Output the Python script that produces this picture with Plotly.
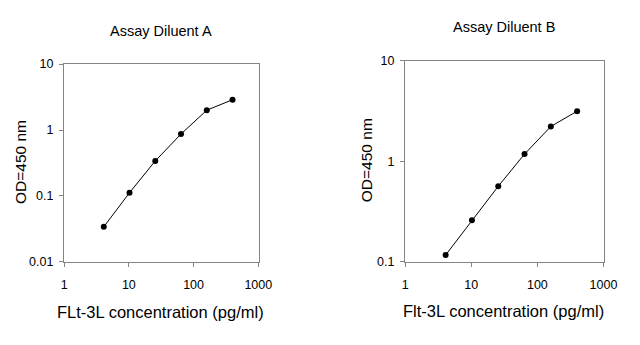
import plotly.graph_objects as go
from plotly.subplots import make_subplots

# Standard curve: 2.5-fold serial dilution of Flt-3L (pg/ml)
conc = [4.096, 10.24, 25.6, 64, 160, 400]
od_diluent_a = [0.034, 0.112, 0.34, 0.87, 2.0, 2.88]
od_diluent_b = [0.117, 0.26, 0.565, 1.18, 2.22, 3.15]

panel_titles = ["Assay Diluent A", "Assay Diluent B"]
x_titles = ["FLt-3L concentration (pg/ml)", "Flt-3L concentration (pg/ml)"]
y_title = "OD=450 nm"
x_ticks = [1, 10, 100, 1000]
y_ticks_a = [0.01, 0.1, 1, 10]
y_ticks_b = [0.1, 1, 10]

FONT = "Liberation Sans, Arial, sans-serif"
AXIS_GREY = "#858585"

fig = make_subplots(rows=1, cols=2)

for col, y in ((1, od_diluent_a), (2, od_diluent_b)):
    fig.add_trace(
        go.Scatter(
            x=conc, y=y, mode="lines+markers",
            line=dict(color="black", width=1),
            marker=dict(color="black", size=6),
            showlegend=False,
        ),
        row=1, col=col,
    )

W, H = 640, 345
dom_a_x = [62.7 / W, 262.5 / W]
dom_b_x = [412.5 / W, 616.5 / W]
dom_a_y = [1 - 265.7 / H, 1 - 59.5 / H]
dom_b_y = [1 - 265.7 / H, 1 - 56 / H]

common_x = dict(
    type="log", range=[0, 3.01], tickvals=x_ticks, ticktext=[str(v) for v in x_ticks],
    showline=True, linecolor=AXIS_GREY, linewidth=1.4, mirror=True,
    ticks="outside", ticklen=4, tickcolor=AXIS_GREY, showgrid=False, zeroline=False,
    ticklabelstandoff=7,
    tickfont=dict(family=FONT, size=12.5, color="black"),
)
common_y = dict(
    type="log", showline=True, linecolor=AXIS_GREY, linewidth=1.4, mirror=True,
    ticks="outside", ticklen=4, tickcolor=AXIS_GREY, showgrid=False, zeroline=False,
    ticklabelstandoff=3,
    tickfont=dict(family=FONT, size=12.5, color="black"),
)

fig.update_layout(
    width=W, height=H,
    margin=dict(l=0, r=0, t=0, b=0),
    paper_bgcolor="white", plot_bgcolor="white",
    font=dict(family=FONT, color="black"),
    xaxis=dict(common_x, domain=dom_a_x),
    xaxis2=dict(common_x, domain=dom_b_x),
    yaxis=dict(common_y, domain=dom_a_y, range=[-2, 1], tickvals=y_ticks_a,
               ticktext=["0.01", "0.1", "1", "10"]),
    yaxis2=dict(common_y, domain=dom_b_y, range=[-1, 1], tickvals=y_ticks_b,
                ticktext=["0.1", "1", "10"]),
)

annotations = [
    dict(text=panel_titles[0], x=162 / W, y=1 - 24.5 / H),
    dict(text=panel_titles[1], x=514 / W, y=1 - 21 / H),
]
for a in annotations:
    a.update(xref="paper", yref="paper", showarrow=False, xanchor="center", yanchor="middle",
             font=dict(family=FONT, size=14.5, color="black"))

for text, x, y in ((x_titles[0], 162 / W, 1 - 318 / H), (x_titles[1], 513 / W, 1 - 317 / H)):
    annotations.append(dict(text=text, x=x, y=y, xref="paper", yref="paper", showarrow=False,
                            xanchor="center", yanchor="middle",
                            font=dict(family=FONT, size=16.5, color="black")))

for x, y in ((18 / W, 1 - 162 / H), (373 / W, 1 - 160 / H)):
    annotations.append(dict(text=y_title, x=x, y=y, xref="paper", yref="paper", showarrow=False,
                            xanchor="center", yanchor="middle", textangle=-90,
                            font=dict(family=FONT, size=15.5, color="black")))

fig.update_layout(annotations=annotations)

fig.write_html("out.html")
